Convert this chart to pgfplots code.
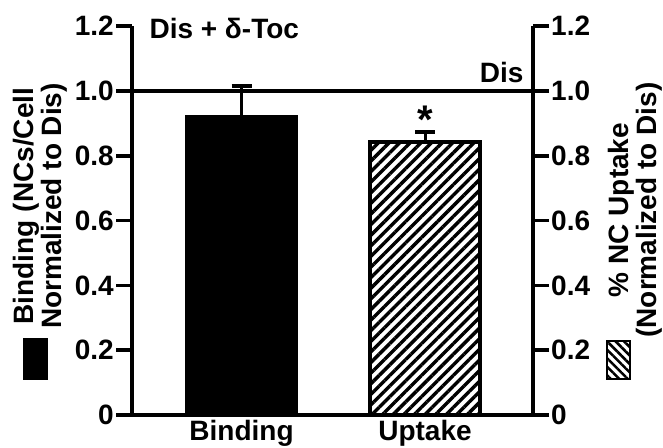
\documentclass[border=0pt]{standalone}
\usepackage{fontspec}
\setmainfont{Liberation Sans}
\usepackage{pgfplots}
\pgfplotsset{compat=1.18}
\usetikzlibrary{patterns.meta}

\begin{document}
\begin{tikzpicture}
\useasboundingbox (0pt,0pt) rectangle (663pt,-447pt);
\pgfplotsset{
  common/.style={
    at={(132pt,-415pt)}, anchor=south west,
    scale only axis, width=401pt, height=388.8pt,
    xmin=0, xmax=401, ymin=0, ymax=1.2,
    ytick={0,0.2,0.4,0.6,0.8,1.0,1.2},
    yticklabels={0,0.2,0.4,0.6,0.8,1.0,1.2},
    tick align=outside, major tick length=16pt,
    tick style={line width=3.5pt, black},
    axis line style={-, line width=3.5pt},
    tick label style={font=\fontsize{28}{28}\selectfont\bfseries, inner sep=2pt},
    /pgf/number format/assume math mode=true,
    clip=false,
  }
}
\begin{axis}[common, axis x line*=bottom, axis y line*=left,
  xtick={109.5,293}, xticklabels={Binding,Uptake},
  xtick style={draw=none}, xticklabel style={yshift=13pt}]
\addplot[ybar, bar width=113pt, bar shift=0pt, fill=black, draw=none,
  error bars/.cd, y dir=plus, y explicit,
  error bar style={line width=3pt, black},
  error mark options={rotate=90, line width=4pt, mark size=10pt, black}]
  coordinates {(109.5,0.926) +- (0,0.088)};
\addplot[ybar, bar width=110pt, bar shift=0pt, draw=black, line width=4pt,
  pattern={Lines[angle=45,distance=7.5pt,line width=3.4pt]},
  error bars/.cd, y dir=plus, y explicit,
  error bar style={line width=3pt, black},
  error mark options={rotate=90, line width=4pt, mark size=10pt, black}]
  coordinates {(293,0.843) +- (0,0.030)};
\addplot[line width=3.5pt, black] coordinates {(0,1) (401,1)};
\node[anchor=base west, font=\fontsize{28}{28}\selectfont\bfseries] at (axis cs:14,1.163) {Dis + δ-Toc};
\node[anchor=base east, font=\fontsize{28}{28}\selectfont\bfseries] at (axis cs:395,1.025) {Dis};
\node[anchor=base, font=\fontsize{40}{40}\selectfont\bfseries] at (axis cs:293,0.868) {*};
\end{axis}
\begin{axis}[common, axis x line=none, axis y line*=right, xtick=\empty]
\end{axis}
\node[rotate=90, align=center, font=\fontsize{28}{28}\selectfont\bfseries] at (40pt,-206pt) {Binding (NCs/Cell\\Normalized to Dis)};
\fill (23pt,-338pt) rectangle (48pt,-380pt);
\node[rotate=90, align=center, font=\fontsize{28}{28}\selectfont\bfseries] at (635pt,-210pt) {\% NC Uptake\\(Normalized to Dis)};
\draw[line width=2pt, pattern={Lines[angle=-45,distance=6pt,line width=2.5pt]}] (607pt,-341pt) rectangle (630pt,-379pt);
\end{tikzpicture}
\end{document}
